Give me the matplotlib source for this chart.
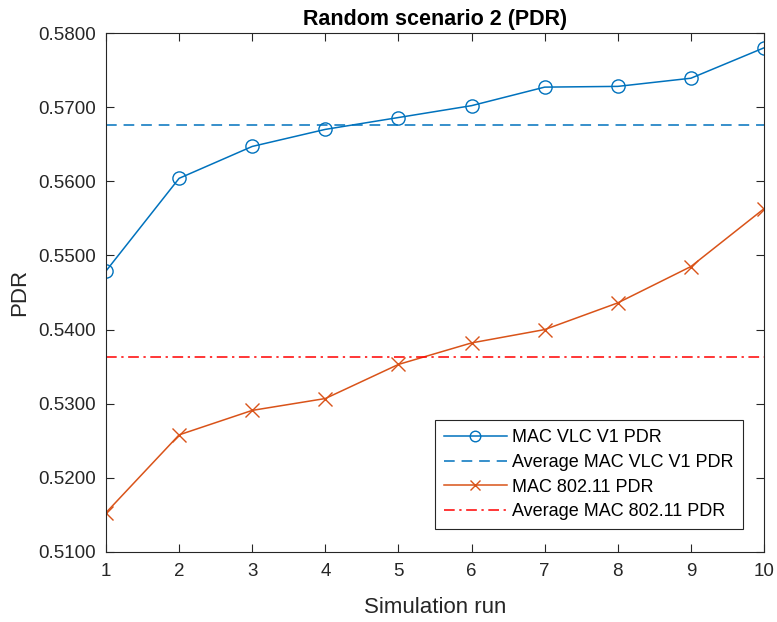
import matplotlib
matplotlib.use("Agg")
import matplotlib.pyplot as plt
import numpy as np
from matplotlib.ticker import FormatStrFormatter

plt.rcParams['font.family'] = ['Liberation Sans', 'DejaVu Sans']

runs = [1, 2, 3, 4, 5, 6, 7, 8, 9, 10]
vlc_pdr = [0.5479, 0.5604, 0.5647, 0.5670, 0.5686, 0.5702, 0.5727, 0.5728, 0.5739, 0.5780]
mac80211_pdr = [0.5153, 0.5258, 0.5291, 0.5307, 0.5353, 0.5382, 0.5400, 0.5436, 0.5485, 0.5563]
vlc_avg = float(np.mean(vlc_pdr))
mac_avg = float(np.mean(mac80211_pdr))
yticks = [0.51, 0.52, 0.53, 0.54, 0.55, 0.56, 0.57, 0.58]

fig = plt.figure(figsize=(7.77, 6.22), dpi=100)
ax = fig.add_axes([106 / 777, 70 / 622, 658 / 777, 519 / 622])

blue = '#0072BD'
orange = '#D95319'

ax.plot(runs, vlc_pdr, '-o', color=blue, lw=1.1, markersize=9.5,
        markerfacecolor='none', markeredgewidth=1.0, label='MAC VLC V1 PDR')
ax.axhline(vlc_avg, color=blue, lw=1.1, ls=(0, (7, 4.5)), label='Average MAC VLC V1 PDR')
ax.plot(runs, mac80211_pdr, '-x', color=orange, lw=1.1, markersize=9.5,
        markeredgewidth=1.0, label='MAC 802.11 PDR')
ax.axhline(mac_avg, color='#FF0000', lw=1.1, ls=(0, (7, 3, 1.5, 3)), label='Average MAC 802.11 PDR')

ax.set_xlim(1, 10)
ax.set_ylim(0.51, 0.58)
ax.set_xticks(runs)
ax.set_yticks(yticks)
ax.yaxis.set_major_formatter(FormatStrFormatter('%.4f'))
ax.tick_params(direction='in', top=True, right=True, length=6, width=0.8,
               labelsize=13.5, colors='#262626')
ax.tick_params(axis='y', pad=7)
ax.tick_params(axis='x', pad=8)
for s in ax.spines.values():
    s.set_color('#262626')
    s.set_linewidth(0.8)

ax.set_xlabel('Simulation run', fontsize=16, color='#262626', labelpad=12)
ax.set_ylabel('PDR', fontsize=16, color='#262626', labelpad=6)
ax.set_title('Random scenario 2 (PDR)', fontsize=15.5, fontweight='bold', pad=6)

leg = ax.legend(loc='lower right', bbox_to_anchor=(0.968, 0.044), fontsize=13,
                handlelength=3.5, frameon=True, fancybox=False, edgecolor='#262626',
                framealpha=1, borderpad=0.5, labelspacing=0.42, handletextpad=0.3,
                borderaxespad=0, markerscale=0.8)
leg.get_frame().set_linewidth(0.8)

fig.savefig('out.png', dpi=100)
